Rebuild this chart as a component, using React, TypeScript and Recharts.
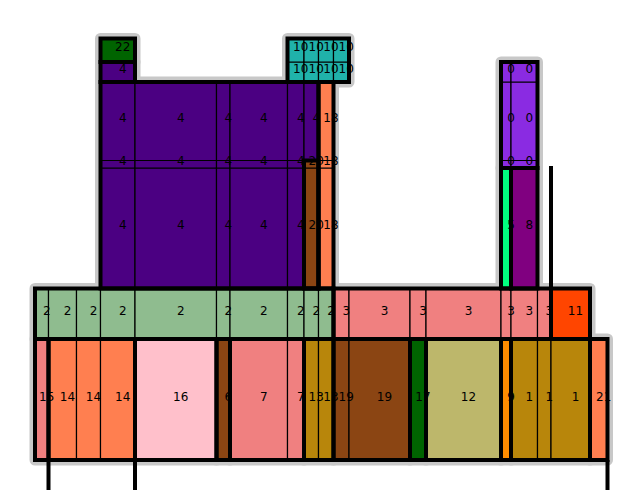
import React from "react";
import { ComposedChart, XAxis, YAxis, ReferenceArea, ReferenceLine } from "recharts";

// mosaic layout: column widths (left to right) and row heights (bottom to top)
const xStart = 35;
const yBase = 460;
const colWidths = [13.5, 28, 24, 34.5, 81.5, 13.5, 57.5, 16.5, 14.5, 15, 15.5, 61, 16, 75, 10, 26.5, 13.5, 39, 17.5];
const rowHeights = [121, 50.5, 120.5, 7.5, 78.5, 20, 23.5];

// label of each cell per column, bottom row first (null = empty)
const stacks: (number | null)[][] = [
  [15, 2],
  [14, 2],
  [14, 2],
  [14, 2, 4, 4, 4, 4, 22],
  [16, 2, 4, 4, 4],
  [6, 2, 4, 4, 4],
  [7, 2, 4, 4, 4],
  [7, 2, 4, 4, 4, 10, 10],
  [13, 2, 20, 20, 4, 10, 10],
  [13, 2, 18, 18, 18, 10, 10],
  [19, 3, null, null, null, 10, 10],
  [19, 3],
  [17, 3],
  [12, 3],
  [9, 3, 5, 0, 0, 0],
  [1, 3, 8, 0, 0, 0],
  [1, 3],
  [1, 11],
  [21],
];

// outlined groups: [firstCol, lastCol, firstRow, lastRow]
const groups: [number, number, number, number][] = [
  [0, 0, 0, 0], [1, 3, 0, 0], [4, 4, 0, 0], [5, 5, 0, 0], [6, 7, 0, 0], [8, 9, 0, 0],
  [10, 11, 0, 0], [12, 12, 0, 0], [13, 13, 0, 0], [14, 14, 0, 0], [15, 17, 0, 0], [18, 18, 0, 0],
  [0, 9, 1, 1], [10, 16, 1, 1], [17, 17, 1, 1],
  [3, 8, 2, 4], [3, 3, 5, 5], [3, 3, 6, 6], [8, 8, 2, 3], [9, 9, 2, 4], [7, 10, 5, 6],
  [14, 14, 2, 2], [15, 15, 2, 2], [14, 15, 3, 5],
];

// loose border segments: column edge index, y from, y to
const strayLines: [number, number, number][] = [
  [1, 460, 490],
  [4, 460, 490],
  [19, 460, 490],
  [17, 166, 288.5],
];

const palette: Record<number, string> = {
  0: "#8A2BE2",
  1: "#B8860B",
  2: "#8FBC8F",
  3: "#F08080",
  4: "#4B0082",
  5: "#00FF7F",
  6: "#8B4513",
  7: "#F08080",
  8: "#800080",
  9: "#FF8C00",
  10: "#20B2AA",
  11: "#FF4500",
  12: "#BDB76B",
  13: "#B8860B",
  14: "#FF7F50",
  15: "#F08080",
  16: "#FFC0CB",
  17: "#006400",
  18: "#FF7F50",
  19: "#8B4513",
  20: "#8B4513",
  21: "#FF7F50",
  22: "#006400",
};

const colEdges = colWidths.reduce<number[]>((acc, w) => [...acc, acc[acc.length - 1] + w], [xStart]);
const rowEdges = rowHeights.reduce<number[]>((acc, h) => [...acc, acc[acc.length - 1] - h], [yBase]);

const cells = stacks.flatMap((stack, c) =>
  stack
    .map((v, r) => ({ c, r, v }))
    .filter((d) => d.v !== null)
);

const cellLabel = (text: string) => (props: any) => {
  const vb = props.viewBox;
  if (!vb) return null;
  return (
    <text
      x={vb.x + vb.width / 2 + 5}
      y={vb.y + vb.height / 2 - 3}
      textAnchor="middle"
      dominantBaseline="central"
      fontFamily="DejaVu Sans"
      fontSize={12}
      fill="#000"
    >
      {text}
    </text>
  );
};

export default function App() {
  return (
    <div style={{ position: "absolute", left: 0, top: 0 }}>
      <ComposedChart width={640} height={500} margin={{ top: 0, right: 0, bottom: 0, left: 0 }}>
        <XAxis type="number" dataKey="x" domain={[0, 640]} hide allowDataOverflow />
        <YAxis type="number" dataKey="y" domain={[0, 500]} reversed hide allowDataOverflow />
        {groups.map(([c0, c1, r0, r1], i) => (
          <ReferenceArea
            key={`halo-${i}`}
            x1={colEdges[c0]}
            x2={colEdges[c1 + 1]}
            y1={rowEdges[r0]}
            y2={rowEdges[r1 + 1]}
            fill="#c8c8c8"
            fillOpacity={1}
            stroke="#c8c8c8"
            strokeWidth={11}
            strokeLinejoin="round"
          />
        ))}
        {cells.map(({ c, r, v }, i) => (
          <ReferenceArea
            key={`cell-${i}`}
            x1={colEdges[c]}
            x2={colEdges[c + 1]}
            y1={rowEdges[r]}
            y2={rowEdges[r + 1]}
            fill={palette[v as number]}
            fillOpacity={1}
            stroke="#000"
            strokeWidth={1.2}
          />
        ))}
        {groups.map(([c0, c1, r0, r1], i) => (
          <ReferenceArea
            key={`group-${i}`}
            x1={colEdges[c0]}
            x2={colEdges[c1 + 1]}
            y1={rowEdges[r0]}
            y2={rowEdges[r1 + 1]}
            fill="none"
            stroke="#000"
            strokeWidth={4}
          />
        ))}
        {strayLines.map(([e, ya, yb], i) => (
          <ReferenceLine
            key={`stray-${i}`}
            segment={[{ x: colEdges[e], y: ya }, { x: colEdges[e], y: yb }]}
            stroke="#000"
            strokeWidth={4}
          />
        ))}
        {cells.map(({ c, r, v }, i) => (
          <ReferenceArea
            key={`label-${i}`}
            x1={colEdges[c]}
            x2={colEdges[c + 1]}
            y1={rowEdges[r]}
            y2={rowEdges[r + 1]}
            fill="none"
            stroke="none"
            label={cellLabel(String(v))}
          />
        ))}
      </ComposedChart>
    </div>
  );
}
